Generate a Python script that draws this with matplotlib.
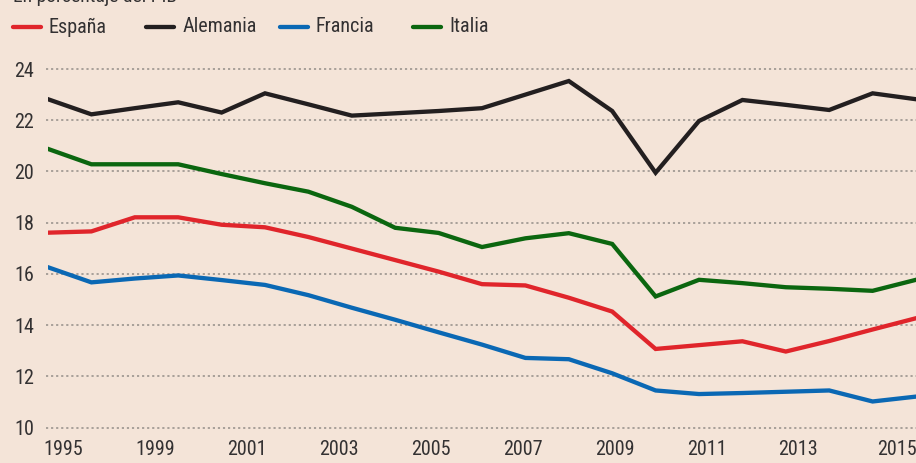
import matplotlib
matplotlib.use("Agg")
import matplotlib.pyplot as plt
from matplotlib import font_manager as fm
from matplotlib.lines import Line2D

# pick a narrow font if there is one
font = "DejaVu Sans"
for name in ["Liberation Sans Narrow", "Roboto Condensed", "DejaVu Sans Condensed"]:
    try:
        fm.findfont(fm.FontProperties(family=name), fallback_to_default=False)
        font = name
        break
    except Exception:
        pass
plt.rcParams["font.family"] = [font, "DejaVu Sans"]

years = list(range(1995, 2016))

espana = [17.61, 17.66, 18.21, 18.21, 17.92, 17.82, 17.44, 16.99, 16.54, 16.09, 15.60,
          15.55, 15.07, 14.53, 13.07, 13.22, 13.37, 12.97, 13.38, 13.83, 14.27]
alemania = [22.82, 22.23, 22.47, 22.70, 22.30, 23.05, 22.62, 22.18, 22.27, 22.36, 22.47,
            23.00, 23.53, 22.36, 19.95, 21.97, 22.79, 22.60, 22.40, 23.05, 22.82]
francia = [16.26, 15.67, 15.82, 15.94, 15.76, 15.57, 15.17, 14.68, 14.21, 13.72, 13.24,
           12.72, 12.67, 12.12, 11.45, 11.31, 11.35, 11.40, 11.45, 11.02, 11.21]
italia = [20.88, 20.28, 20.28, 20.28, 19.90, 19.54, 19.21, 18.62, 17.80, 17.60, 17.05,
          17.39, 17.59, 17.17, 15.12, 15.77, 15.64, 15.48, 15.42, 15.34, 15.77]

series = [("España", espana, "#e0252b"),
          ("Alemania", alemania, "#231f20"),
          ("Francia", francia, "#0a68b4"),
          ("Italia", italia, "#0b660f")]

yticks = [10, 12, 14, 16, 18, 20, 22, 24]
xtick_labels = ["1995", "1999", "2001", "2003", "2005", "2007", "2009", "2011", "2013", "2015"]
xtick_pos = [1995.36, 1997.48, 1999.59, 2001.71, 2003.83, 2005.94, 2008.06, 2010.19, 2012.28, 2014.56]

bg = "#f4e4d8"
txt = "#333132"
W, H = 916, 463
fig = plt.figure(figsize=(9.16, 4.63), dpi=100, facecolor=bg)
ax = fig.add_axes([48 / W, (H - 427.6) / H, 868 / W, 358.6 / H])
ax.set_facecolor(bg)
ax.set_xlim(1995, 2015)
ax.set_ylim(10, 24)

for y in yticks:
    ax.axhline(y, xmin=-0.002, color="#a29a94", lw=1.3, ls=(0, (1.2, 1.6)), zorder=1, clip_on=False)

for name, vals, col in series:
    ax.plot(years, vals, color=col, lw=3.1, solid_joinstyle="miter", zorder=3)

for s in ax.spines.values():
    s.set_visible(False)
ax.tick_params(length=0, labelcolor=txt, labelsize=14.5)
ax.set_yticks(yticks)
ax.tick_params(axis="y", pad=10)
ax.set_xticks(xtick_pos)
ax.set_xticklabels(xtick_labels)
ax.tick_params(axis="x", pad=9)

# subtitle, cut at the top edge as in the original
fig.text(13 / W, 1 + 12 / H, "En porcentaje del PIB", fontsize=14, color=txt, va="top")

# legend, evenly spaced entries
ly = 1 - 27 / H
for i, (name, vals, col) in enumerate(series):
    x0 = 13 + i * 133.4
    fig.add_artist(Line2D([x0 / W, (x0 + 28) / W], [ly, ly], color=col, lw=3.1,
                          solid_capstyle="round", transform=fig.transFigure))
    fig.text((x0 + 36) / W, ly, name, fontsize=14.5, color=txt, va="center", ha="left")

fig.savefig("out.png", dpi=100, facecolor=bg)
